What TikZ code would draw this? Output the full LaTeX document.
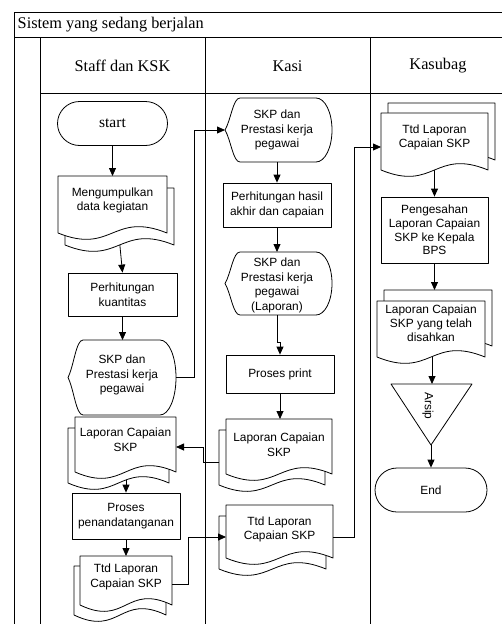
\documentclass[tikz,border=0pt]{standalone}
\usepackage{fontspec}
\setmainfont{Liberation Serif}
\newfontfamily\arialf{Liberation Sans}
\usetikzlibrary{arrows.meta,shapes.misc}
\pgfdeclarelayer{bg}
\pgfsetlayers{bg,main}
\newcommand\mdoc[6]{%
  \filldraw[shapestyle] ({#1+(#5)},{#3+(#6)}) -- ({#2+(#5)},{#3+(#6)}) -- ({#2+(#5)},{#4+(#6)})
    .. controls ({(#1+#2)/2+(#5)},{#4+(#6)-22}) and ({(#1+#2)/2+(#5)},{#4+(#6)+22}) .. ({#1+(#5)},{#4+(#6)}) -- cycle;
  \filldraw[shapestyle] (#1,#3) -- (#2,#3) -- (#2,#4)
    .. controls ({(#1+#2)/2},{#4-22}) and ({(#1+#2)/2},{#4+22}) .. (#1,#4) -- cycle;
}
\newcommand\dispshape[4]{%
  \pgfmathsetmacro\dspXa{#1}\pgfmathsetmacro\dspXb{#2}%
  \pgfmathsetmacro\dspYa{#3}\pgfmathsetmacro\dspYb{#4}%
  \pgfmathsetmacro\dspYm{(#3+#4)/2}\pgfmathsetmacro\dspH{(#4-#3)/2}%
  \filldraw[shapestyle] (\dspXa,\dspYm)
    .. controls ({\dspXa+6},{\dspYm-0.32*\dspH}) and ({\dspXa+8},\dspYa) .. ({\dspXa+15},\dspYa)
    -- ({\dspXb-16},\dspYa)
    .. controls ({\dspXb-7},\dspYa) and (\dspXb,{\dspYm-0.552*\dspH}) .. (\dspXb,\dspYm)
    .. controls (\dspXb,{\dspYm+0.552*\dspH}) and ({\dspXb-7},\dspYb) .. ({\dspXb-16},\dspYb)
    -- ({\dspXa+15},\dspYb)
    .. controls ({\dspXa+8},\dspYb) and ({\dspXa+6},{\dspYm+0.32*\dspH}) .. (\dspXa,\dspYm) -- cycle;
}
\begin{document}
\begin{tikzpicture}[x=1pt,y=-1pt,
  shapestyle/.style={draw=black,fill=white,line width=0.8pt,line join=round},
  boxst/.style={shapestyle,rectangle,inner sep=0pt,align=center,font=\arialf\fontsize{11.9}{14.7}\selectfont},
  term/.style={shapestyle,rounded rectangle,inner sep=0pt,minimum width=110pt,minimum height=44pt},
  txt/.style={inner sep=0pt,align=center,font=\arialf\fontsize{11.9}{14.7}\selectfont},
  txtb/.style={inner sep=0pt,align=center,font=\arialf\fontsize{11.9}{13.8}\selectfont},
  conn/.style={draw=black,line width=0.8pt,-{Triangle[length=8pt,width=7pt]}},
  frame/.style={draw=black,line width=1pt},
  hdr/.style={inner sep=0pt,font=\fontsize{16.3}{19}\selectfont}]
\useasboundingbox (0,0) rectangle (502,624);
\clip (0,0) rectangle (502,624);
% frame
\draw[frame] (520,12) -- (14,12) -- (14,640);
\draw[frame] (14,37.5) -- (520,37.5);
\draw[frame] (40,37.5) -- (40,640);
\draw[frame] (40,93) -- (520,93);
\draw[frame] (205,37.5) -- (205,640);
\draw[frame] (370,37.5) -- (370,640);
\node[hdr,anchor=west] (title) at (17.5,25) {Sistem yang sedang berjalan};
\node[hdr] (laneA) at (122.5,66) {Staff dan KSK};
\node[hdr] (laneB) at (287.5,66) {Kasi};
\node[hdr] (laneC) at (438,66) {Kasubag};
% ---- Staff dan KSK
\node[term,font=\fontsize{15.5}{17}\selectfont] (start) at (112.5,123.5) {start};
\mdoc{58}{167}{176}{233}{7}{12}
\node[txt] (meng) at (112.5,200.5) {Mengumpulkan\\data kegiatan};
\node[boxst,minimum width=109pt,minimum height=43pt] (perhK) at (122.5,294.5) {Perhitungan\\kuantitas};
\dispshape{68}{176}{340}{415}
\node[txt] (skpS) at (122,375) {SKP dan\\Prestasi kerja\\pegawai};
\mdoc{75}{176}{417}{472}{-7}{11}
\node[txt] (lapS) at (125.5,440) {Laporan Capaian\\SKP};
\node[boxst,minimum width=108pt,minimum height=46pt] (ttdproc) at (126,516) {Proses\\penandatanganan};
\mdoc{80}{172}{556}{605}{-6}{10}
\node[txt] (ttdS) at (126,577) {Ttd Laporan\\Capaian SKP};
% ---- Kasi
\dispshape{225}{332}{98}{162}
\node[txt] (skpK) at (277,130) {SKP dan\\Prestasi kerja\\pegawai};
\node[boxst,minimum width=108pt,minimum height=44pt] (perhH) at (277,205) {Perhitungan hasil\\akhir dan capaian};
\dispshape{225}{332}{252}{315}
\node[txt] (skpL) at (277,285.5) {SKP dan\\Prestasi kerja\\pegawai\\(Laporan)};
\node[boxst,minimum width=108pt,minimum height=38pt] (print) at (280,374) {Proses print};
\mdoc{226}{332}{419}{474}{-7}{11}
\node[txt] (lapK) at (279,444.5) {Laporan Capaian\\SKP};
\mdoc{226}{333}{505}{558}{-7}{11}
\node[txt] (ttdK) at (279.5,529.5) {Ttd Laporan\\Capaian SKP};
% ---- Kasubag
\mdoc{381}{488}{113}{170}{7}{-10}
\node[txt] (ttdB) at (434.5,137.5) {Ttd Laporan\\Capaian SKP};
\node[boxst,minimum width=107pt,minimum height=66pt,font=\arialf\fontsize{11.9}{13.6}\selectfont] (peng) at (434.5,230) {Pengesahan\\Laporan Capaian\\SKP ke Kepala\\BPS};
\mdoc{377}{485}{301}{357}{7}{-11}
\node[txtb] (sah) at (431,323) {Laporan Capaian\\SKP yang telah\\disahkan};
\filldraw[shapestyle] (391,384) -- (472,384) -- (431,445) -- cycle;
\node[txt,rotate=-90] (arsip) at (428,406) {Arsip};
\node[term,font=\arialf\fontsize{11.9}{14.7}\selectfont,minimum width=112pt] (endn) at (431,490) {End};
% coordinates
\coordinate (mengT) at (112.5,176);
\coordinate (mengB) at (119,236);
\coordinate (skpST) at (122.5,340);
\coordinate (skpSR) at (176,377.5);
\coordinate (skpKL) at (225,130);
\coordinate (skpKB) at (277,162);
\coordinate (skpLT) at (277,252);
\coordinate (skpLB) at (277,315);
\coordinate (lapKT) at (280,419);
\coordinate (lapKL) at (219,462);
\coordinate (lapSR) at (176,447);
\coordinate (lapSB) at (126,462);
\coordinate (ttdST) at (126,556);
\coordinate (ttdSR) at (172,584);
\coordinate (ttdKL) at (226,537);
\coordinate (ttdKR) at (333,537);
\coordinate (ttdBL) at (381,147);
\coordinate (ttdBB) at (434.5,160);
\coordinate (sahT) at (434.5,290);
\coordinate (sahB) at (432,345);
\coordinate (triT) at (432,384);
\coordinate (triB) at (431,445);
% connectors
\begin{pgfonlayer}{bg}
\draw[conn] (mengB) -- (perhK.north);
\draw[conn] (lapSB) -- (ttdproc.north);
\draw[conn] (ttdBB) -- (peng.north);
\draw[conn] (sahB) -- (triT);
\end{pgfonlayer}
\draw[conn] (start.south) -- (mengT);
\draw[conn] (perhK.south) -- (skpST);
\draw[conn] (skpSR) -- ++(18,0) |- (skpKL);
\draw[conn] (skpKB) -- (perhH.north);
\draw[conn] (perhH.south) -- (skpLT);
\draw[conn] (skpLB) -- ++(0,27) -- ++(3,0) -- (print.north);
\draw[conn] (print.south) -- (lapKT);
\draw[conn] (lapKL) -- ++(-16,0) |- (lapSR);
\draw[conn] (ttdproc.south) -- (ttdST);
\draw[conn] (ttdSR) -- ++(16,0) |- (ttdKL);
\draw[conn] (ttdKR) -- ++(21,0) |- (ttdBL);
\draw[conn] (peng.south) -- (sahT);
\draw[conn] (triB) -- (endn.north);
\end{tikzpicture}
\end{document}
